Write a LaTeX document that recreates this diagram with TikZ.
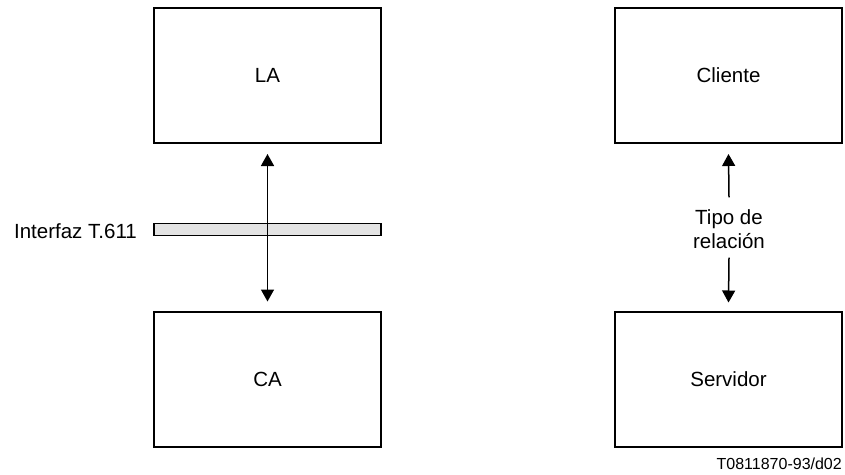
\documentclass[tikz,border=0pt]{standalone}
\usepackage{fontspec}
\setmainfont{Liberation Sans}
\usetikzlibrary{arrows.meta}
\begin{document}
\begin{tikzpicture}[x=1pt,y=1pt,
  blk/.style={draw, line width=2pt, minimum width=227pt, minimum height=135pt, inner sep=0pt, font=\fontsize{20.5}{24}\selectfont},
  lbl/.style={font=\fontsize{20.5}{24}\selectfont, inner sep=0pt},
  conn/.style={line width=1.5pt, {Triangle[length=12pt,width=13pt]}-{Triangle[length=12pt,width=13pt]}},
  oneway/.style={line width=1.5pt, -{Triangle[length=12pt,width=13pt]}}]
\useasboundingbox (0,0) rectangle (845,-474);
\node[blk] (LA) at (267.5,-75.5) {LA};
\node[blk] (CA) at (267.5,-379) {CA};
\node[blk] (Cl) at (728.5,-75.5) {Cliente};
\node[blk] (Sv) at (728.5,-379) {Servidor};
\node[draw, line width=1.6pt, fill=gray!22, minimum width=227pt, minimum height=12pt, inner sep=0pt] (bar) at (267.5,-229.5) {};
\node[lbl, anchor=east] (ifz) at (137,-231) {Interfaz T.611};
\draw[conn, shorten <=10pt, shorten >=9pt] (LA.south) -- (CA.north);
\node[lbl, align=center, inner sep=0pt] (rel) at (729,-229) {Tipo de\\relación};
\draw[oneway] ([yshift=12pt]rel.north) -- ([yshift=-10pt]Cl.south);
\draw[oneway] ([yshift=-9pt]rel.south) -- ([yshift=8pt]Sv.north);
\node[lbl, anchor=east, font=\fontsize{16}{19}\selectfont] (code) at (842,-464) {T0811870-93/d02};
\end{tikzpicture}
\end{document}
